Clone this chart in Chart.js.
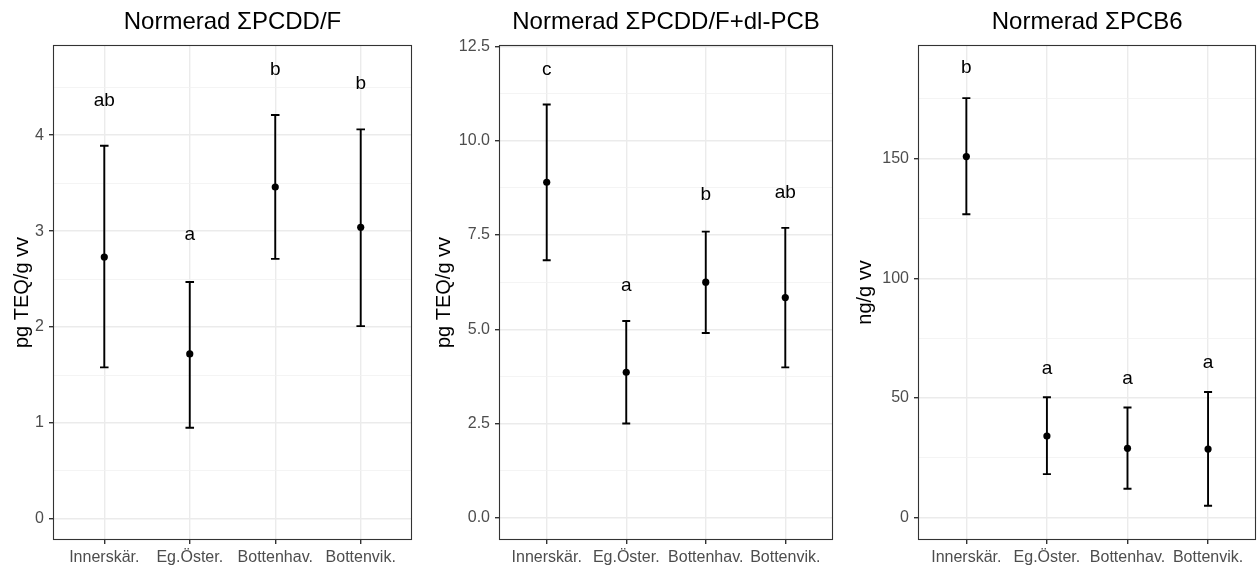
<!DOCTYPE html>
<html>
<head>
<meta charset="utf-8">
<script src="https://cdn.jsdelivr.net/npm/chart.js@4"></script>
<style>
  body { margin: 0; background: #fff; }
  .panel { position: absolute; top: 0; }
</style>
</head>
<body>
<div class="panel" style="left:0px"><canvas id="c1" width="420" height="568"></canvas></div>
<div class="panel" style="left:420px"><canvas id="c2" width="420" height="568"></canvas></div>
<div class="panel" style="left:840px"><canvas id="c3" width="420" height="568"></canvas></div>
<script>
// categories (same for all three panels)
const categories = ['Innerskär.', 'Eg.Öster.', 'Bottenhav.', 'Bottenvik.'];

// panel 1: Normerad ΣPCDD/F
const dfMeans = [2.73, 1.72, 3.46, 3.04];
const dfLows = [1.58, 0.95, 2.71, 2.01];
const dfHighs = [3.89, 2.47, 4.21, 4.06];
const dfLetters = ['ab', 'a', 'b', 'b'];
const dfLetterY = [4.36, 2.96, 4.68, 4.54];
const dfTicks = [0, 1, 2, 3, 4];
const dfTickLabels = ['0', '1', '2', '3', '4'];
const dfMinor = [0.5, 1.5, 2.5, 3.5, 4.5];

// panel 2: Normerad ΣPCDD/F+dl-PCB
const teqMeans = [8.90, 3.86, 6.25, 5.84];
const teqLows = [6.83, 2.50, 4.90, 3.99];
const teqHighs = [10.96, 5.22, 7.59, 7.69];
const teqLetters = ['c', 'a', 'b', 'ab'];
const teqLetterY = [11.89, 6.15, 8.56, 8.63];
const teqTicks = [0, 2.5, 5, 7.5, 10, 12.5];
const teqTickLabels = ['0.0', '2.5', '5.0', '7.5', '10.0', '12.5'];
const teqMinor = [1.25, 3.75, 6.25, 8.75, 11.25];

// panel 3: Normerad ΣPCB6
const pcbMeans = [150.8, 34.1, 29.0, 28.7];
const pcbLows = [126.7, 18.2, 12.1, 5.0];
const pcbHighs = [175.2, 50.3, 46.0, 52.5];
const pcbLetters = ['b', 'a', 'a', 'a'];
const pcbLetterY = [187.7, 62.4, 58.2, 64.7];
const pcbTicks = [0, 50, 100, 150];
const pcbTickLabels = ['0', '50', '100', '150'];
const pcbMinor = [25, 75, 125, 175];

const FONT = "'Liberation Sans', Arial, sans-serif";

function makePanel(id, p) {
    const allTicks = p.ticks.concat(p.minor).sort((a, b) => a - b);
    const isMajor = v => p.ticks.indexOf(v) >= 0;

    // error bars + letters drawn through the chart scales
    const errPlugin = {
        id: 'errbars',
        beforeDatasetsDraw(chart) {
            const ctx = chart.ctx, xs = chart.scales.x, ys = chart.scales.y;
            ctx.save();
            ctx.strokeStyle = '#000';
            ctx.lineWidth = 1.9;
            p.means.forEach((m, i) => {
                const x = xs.getPixelForValue(i);
                const xl = xs.getPixelForValue(i - 0.05);
                const xr = xs.getPixelForValue(i + 0.05);
                const yl = ys.getPixelForValue(p.lows[i]);
                const yh = ys.getPixelForValue(p.highs[i]);
                ctx.beginPath();
                ctx.moveTo(x, yl); ctx.lineTo(x, yh);
                ctx.moveTo(xl, yl); ctx.lineTo(xr, yl);
                ctx.moveTo(xl, yh); ctx.lineTo(xr, yh);
                ctx.stroke();
            });
            ctx.restore();
        },
        afterDatasetsDraw(chart) {
            const ctx = chart.ctx, xs = chart.scales.x, ys = chart.scales.y;
            ctx.save();
            ctx.fillStyle = '#000';
            ctx.font = '19px ' + FONT;
            ctx.textAlign = 'center';
            ctx.textBaseline = 'middle';
            p.letters.forEach((t, i) => {
                ctx.fillText(t, xs.getPixelForValue(i), ys.getPixelForValue(p.letterY[i]));
            });
            // panel border
            const a = chart.chartArea;
            ctx.strokeStyle = '#333333';
            ctx.lineWidth = 1.1;
            ctx.strokeRect(Math.round(a.left) + 0.5, Math.round(a.top) + 0.5,
                Math.round(a.right - a.left) - 1, Math.round(a.bottom - a.top) - 1);
            ctx.restore();
        }
    };

    new Chart(document.getElementById(id), {
        type: 'scatter',
        data: {
            datasets: [{
                data: p.means.map((m, i) => ({ x: i, y: m })),
                backgroundColor: '#000',
                borderWidth: 0,
                pointRadius: 3.6,
                pointHoverRadius: 3.6
            }]
        },
        options: {
            responsive: false,
            animation: false,
            layout: { padding: { left: 0, right: p.padRight, top: 0, bottom: 0 } },
            plugins: {
                legend: { display: false },
                tooltip: { enabled: false },
                title: {
                    display: true,
                    text: p.title,
                    fullSize: false,
                    color: '#000',
                    font: { family: FONT, size: 24, weight: 'normal' },
                    padding: { top: 8, bottom: 8.2 }
                }
            },
            scales: {
                x: {
                    type: 'linear',
                    min: -0.6,
                    max: 3.6,
                    afterBuildTicks: s => { s.ticks = categories.map((c, i) => ({ value: i })); },
                    afterFit: s => { s.height = 28; },
                    ticks: {
                        autoSkip: false,
                        maxRotation: 0,
                        padding: 4,
                        color: '#4d4d4d',
                        font: { family: FONT, size: 16 },
                        callback: v => categories[v]
                    },
                    grid: { color: '#ebebeb', lineWidth: 1.4, tickColor: '#333333', tickLength: 4 },
                    border: { display: false }
                },
                y: {
                    min: p.min,
                    max: p.max,
                    afterBuildTicks: s => { s.ticks = allTicks.map(v => ({ value: v })); },
                    afterFit: s => { s.width = p.axisWidth; },
                    ticks: {
                        autoSkip: false,
                        padding: 5,
                        color: '#4d4d4d',
                        font: { family: FONT, size: 16 },
                        callback: v => isMajor(v) ? p.tickLabels[p.ticks.indexOf(v)] : ''
                    },
                    grid: {
                        color: c => (c.tick && isMajor(c.tick.value)) ? '#ebebeb' : '#f1f1f1',
                        lineWidth: c => (c.tick && isMajor(c.tick.value)) ? 1.4 : 0.8,
                        tickColor: c => (c.tick && isMajor(c.tick.value)) ? '#333333' : 'rgba(0,0,0,0)',
                        tickLength: 4
                    },
                    border: { display: false },
                    title: {
                        display: true,
                        text: p.yTitle,
                        color: '#000',
                        font: { family: FONT, size: 20 },
                        padding: { top: p.titlePad, bottom: 0 }
                    }
                }
            }
        },
        plugins: [errPlugin]
    });
}

makePanel('c1', {
    title: 'Normerad \u03A3PCDD/F', yTitle: 'pg TEQ/g vv',
    means: dfMeans, lows: dfLows, highs: dfHighs, letters: dfLetters, letterY: dfLetterY,
    ticks: dfTicks, tickLabels: dfTickLabels, minor: dfMinor,
    min: -0.22, max: 4.94, axisWidth: 53, padRight: 8, titlePad: 10
});
makePanel('c2', {
    title: 'Normerad \u03A3PCDD/F+dl-PCB', yTitle: 'pg TEQ/g vv',
    means: teqMeans, lows: teqLows, highs: teqHighs, letters: teqLetters, letterY: teqLetterY,
    ticks: teqTicks, tickLabels: teqTickLabels, minor: teqMinor,
    min: -0.59, max: 12.54, axisWidth: 79, padRight: 7, titlePad: 12
});
makePanel('c3', {
    title: 'Normerad \u03A3PCB6', yTitle: 'ng/g vv',
    means: pcbMeans, lows: pcbLows, highs: pcbHighs, letters: pcbLetters, letterY: pcbLetterY,
    ticks: pcbTicks, tickLabels: pcbTickLabels, minor: pcbMinor,
    min: -9.3, max: 197.4, axisWidth: 78, padRight: 3, titlePad: 13
});
</script>
</body>
</html>
